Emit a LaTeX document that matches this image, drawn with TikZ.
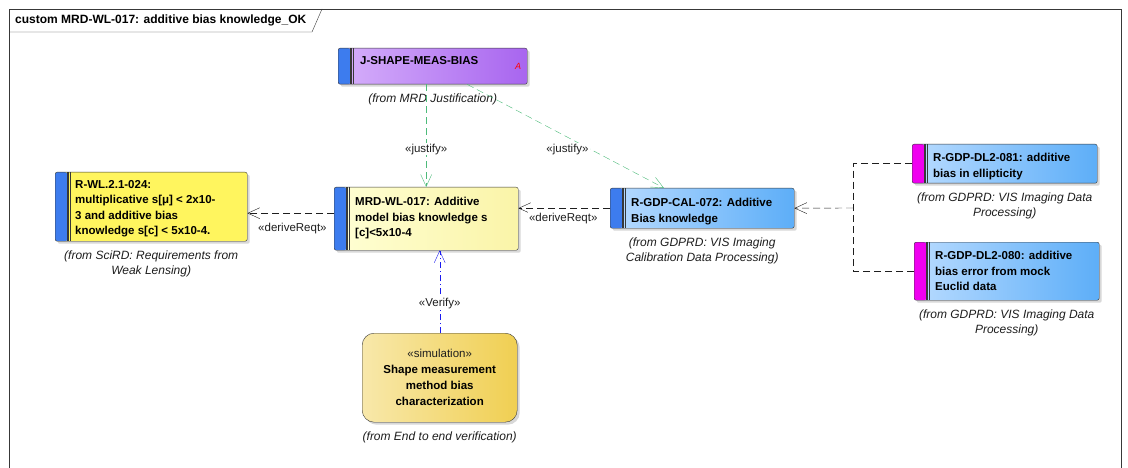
\documentclass[tikz,border=0pt]{standalone}
\usepackage{fontspec}
\setmainfont{Liberation Sans}
\usepackage{tikz}
\usetikzlibrary{positioning,arrows.meta,shadows}
\definecolor{nInk}{HTML}{1E1E1E}
\definecolor{nEdge}{HTML}{383838}
\definecolor{jusGreen}{HTML}{4DBB7A}
\definecolor{verBlue}{HTML}{1A1AF0}
\definecolor{stripBlue}{HTML}{3D7CEE}
\definecolor{stripMag}{HTML}{F000F0}
\definecolor{reqBlueL}{HTML}{B8DBFF}
\definecolor{reqBlueR}{HTML}{5DAEF8}
\definecolor{reqYel}{HTML}{FFF55E}
\definecolor{mrdYelL}{HTML}{FFFFD4}
\definecolor{mrdYelR}{HTML}{FAF4A8}
\definecolor{simGoldL}{HTML}{F8E8AA}
\definecolor{simGoldR}{HTML}{F0CF52}
\definecolor{jusPurL}{HTML}{D6B0FB}
\definecolor{jusPurR}{HTML}{A865EF}
\tikzset{
  box/.style={draw=nEdge, rounded corners=2pt, inner sep=0pt, anchor=north west,
    drop shadow={shadow xshift=2.5pt, shadow yshift=-2.5pt, fill=black!30}},
  strip/.style={path picture={
    \fill[#1] (path picture bounding box.north west) rectangle ([xshift=12pt]path picture bounding box.south west);
    \draw[nEdge, line width=1.8pt] ([xshift=12.9pt]path picture bounding box.north west) -- ([xshift=12.9pt]path picture bounding box.south west);
    \draw[nEdge, line width=0.5pt] ([xshift=15.2pt]path picture bounding box.north west) -- ([xshift=15.2pt]path picture bounding box.south west);}},
  reqtext/.style={anchor=north west, inner sep=0pt, align=left, text=black, font=\fontsize{11.5}{15.5}\selectfont\bfseries},
  from/.style={inner sep=0pt, align=center, text=nInk, font=\fontsize{12}{15.5}\selectfont\itshape},
  lbl/.style={inner sep=1pt, fill=white, text=nInk, font=\fontsize{11.5}{13}\selectfont},
  dep/.style={draw=nInk, dash pattern=on 7pt off 4pt},
  jus/.style={draw=jusGreen, dash pattern=on 7pt off 4pt, ->},
  ver/.style={draw=verBlue, dash pattern=on 6pt off 3pt on 1pt off 3pt, ->}
}
\begin{document}
\begin{tikzpicture}[x=1pt, y=-1pt, >={Straight Barb[length=12pt,width=11pt]}]
  \path[use as bounding box, fill=white] (0,0) rectangle (1128,468);
  \draw[nEdge] (9,468) -- (9,9) -- (1121,9) -- (1121,468);
  \draw[nEdge] (9,32) -- (312,32) -- (322,9);
  \node[anchor=west, inner sep=0pt, text=black, font=\fontsize{12}{13}\selectfont\bfseries] (title) at (15,20) {custom MRD-WL-017: additive bias knowledge\_OK};

  \node[box, strip=stripBlue, left color=jusPurL, right color=jusPurR, minimum width=189pt, minimum height=36pt] (jsm) at (338,48) {};
  \node[reqtext] (jsm-t) at ([xshift=22pt, yshift=-8pt]jsm.north west) {J-SHAPE-MEAS-BIAS};
  \node[inner sep=0pt, text=red, font=\fontsize{9}{10}\selectfont\itshape] (jsm-a) at (518,66) {A};
  \node[from, below=9pt of jsm] (jsm-f) {(from MRD Justification)};

  \node[box, strip=stripBlue, fill=reqYel, minimum width=192pt, minimum height=69pt] (rwl) at (55,172) {};
  \node[reqtext] (rwl-t) at ([xshift=20pt, yshift=-8pt]rwl.north west) {R-WL.2.1-024:\\multiplicative s[μ] < 2x10-\\3 and additive bias\\knowledge s[c] < 5x10-4.};
  \node[from, below=9pt of rwl] (rwl-f) {(from SciRD: Requirements from\\Weak Lensing)};

  \node[box, strip=stripBlue, left color=mrdYelL, right color=mrdYelR, minimum width=184pt, minimum height=63pt] (mrd) at (334,187) {};
  \node[reqtext] (mrd-t) at ([xshift=21pt, yshift=-10pt]mrd.north west) {MRD-WL-017: Additive\\model bias knowledge s\\{[c]}<5x10-4};

  \node[box, strip=stripBlue, left color=reqBlueL, right color=reqBlueR, minimum width=184pt, minimum height=40pt] (cal) at (610,188) {};
  \node[reqtext] (cal-t) at ([xshift=21pt, yshift=-10pt]cal.north west) {R-GDP-CAL-072: Additive\\Bias knowledge};
  \node[from, below=9pt of cal] (cal-f) {(from GDPRD: VIS Imaging\\Calibration Data Processing)};

  \node[box, strip=stripMag, left color=reqBlueL, right color=reqBlueR, minimum width=185pt, minimum height=39pt] (d81) at (912,144) {};
  \node[reqtext] (d81-t) at ([xshift=21pt, yshift=-9pt]d81.north west) {R-GDP-DL2-081: additive\\bias in ellipticity};
  \node[from, below=9pt of d81] (d81-f) {(from GDPRD: VIS Imaging Data\\Processing)};

  \node[box, strip=stripMag, left color=reqBlueL, right color=reqBlueR, minimum width=185pt, minimum height=58pt] (d80) at (914,242) {};
  \node[reqtext] (d80-t) at ([xshift=21pt, yshift=-9pt]d80.north west) {R-GDP-DL2-080: additive\\bias error from mock\\Euclid data};
  \node[from, below=9pt of d80] (d80-f) {(from GDPRD: VIS Imaging Data\\Processing)};

  \node[box, rounded corners=12pt, left color=simGoldL, right color=simGoldR, minimum width=155pt, minimum height=89pt, align=center, text=black, font=\fontsize{11.5}{16}\selectfont] (sim) at (362,333) {{\color{nInk}«simulation»}\\\textbf{Shape measurement}\\\textbf{method bias}\\\textbf{characterization}};
  \node[from, below=9pt of sim] (sim-f) {(from End to end verification)};

  \draw[jus] (jsm.south -| mrd.north) -- node[lbl, pos=.63] (jl1) {«justify»} (mrd.north);
  \draw[jus] (jsm) -- node[lbl, pos=.51, below=6pt] (jl2) {«justify»} (cal);
  \coordinate (m1) at ([yshift=5.5pt]mrd.west);
  \draw[dep, ->] (m1) -- node[lbl, pos=.48, below=9pt] (dl1) {«deriveReqt»} (rwl.east |- m1);
  \draw[dep, ->] (cal.west) -- node[lbl, pos=.51, below=4pt] (dl2) {«deriveReqt»} (mrd.east |- cal.west);
  \coordinate (jn) at (853,208);
  \draw[dep] (d81.west) -| (jn);
  \draw[dep] (d80.west) -| (jn);
  \draw[dep, ->] (jn) -- (cal.east);
  \draw[ver] (sim.north) -- node[lbl, pos=.36] (vl) {«Verify»} (mrd.south -| sim.north);
\end{tikzpicture}
\end{document}
